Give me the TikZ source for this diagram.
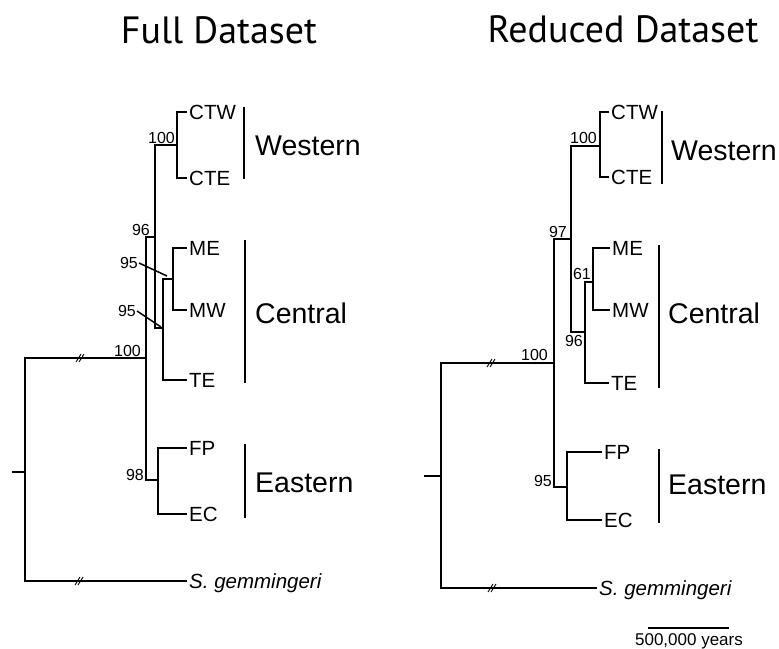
\documentclass[tikz,border=0pt]{standalone}
\usepackage{fontspec}
\setmainfont{Liberation Sans}
\newfontfamily\titlefont{PT Sans}
\usetikzlibrary{calc}

\begin{document}
\begin{tikzpicture}[x=1pt,y=-1pt]
      \tikzset{branch/.style={line width=1.25pt},
        brk/.style={line width=0.9pt},
        leaf/.style={anchor=west, inner sep=2pt, text depth=0pt,
          font=\fontsize{20.5}{23}\selectfont},
        grp/.style={anchor=west, inner sep=0pt,
          font=\fontsize{28.5}{31}\selectfont},
        supp/.style={inner sep=1pt, font=\fontsize{16}{18}\selectfont},
        ttl/.style={anchor=base, font=\titlefont\fontsize{38}{40}\selectfont}
      }
      \useasboundingbox (0,0) rectangle (779,648);

      \node [ttl] (tfull) at (219,43) {Full Dataset};
      \node [ttl] (tred) at (623,42) {Reduced Dataset};

      % full dataset
      \coordinate (Lstub) at (12,472);
      \coordinate (Lroot) at (25,472);
      \coordinate (Lin) at (146,358);
      \coordinate (L96) at (155,237);
      \coordinate (Lwest) at (177,145);
      \coordinate (L95b) at (163,328);
      \coordinate (L95a) at (173,279);
      \coordinate (Least) at (158,480);
      \node [leaf] (Lctw) at (187,112) {CTW};
      \node [leaf] (Lcte) at (187,178) {CTE};
      \node [leaf] (Lme) at (187,248) {ME};
      \node [leaf] (Lmw) at (187,310) {MW};
      \node [leaf] (Lte) at (187,380) {TE};
      \node [leaf] (Lfp) at (187,448) {FP};
      \node [leaf] (Lec) at (187,514) {EC};
      \node [leaf] (Lgem) at (187,581) {\itshape S. gemmingeri};
      \draw [branch] (Lstub) -- (Lroot);
      \draw [branch] (Lroot) |- (Lin) (Lroot) |- (Lgem.west)
        (Lin) |- (L96) (Lin) |- (Least)
        (L96) |- (Lwest) (L96) |- (L95b)
        (Lwest) |- (Lctw.west) (Lwest) |- (Lcte.west)
        (L95b) |- (L95a) (L95b) |- (Lte.west)
        (L95a) |- (Lme.west) (L95a) |- (Lmw.west)
        (Least) |- (Lfp.west) (Least) |- (Lec.west);

      \node [supp, anchor=south east] (sLwest) at (176,145) {100};
      \node [supp, anchor=south east] (sL96) at (151,237) {96};
      \node [supp, anchor=south east] (sLin) at (142,358) {100};
      \node [supp, anchor=south east] (sLeast) at (145,482) {98};
      \node [supp, anchor=east] (sL95a) at (139,263) {95};
      \node [supp, anchor=east] (sL95b) at (137,311) {95};
      \coordinate (pL95a) at (167,276);
      \coordinate (pL95b) at (161,327);
      \draw [line width=1.5pt] (sL95a.east) -- (pL95a);
      \draw [line width=1.5pt] (sL95b.east) -- (pL95b);

      \draw [branch] (244,107) -- (244,179);
      \draw [branch] (245,240) -- (245,383);
      \draw [branch] (245,444) -- (245,518);
      \node [grp] (gLw) at (255,146) {Western};
      \node [grp] (gLc) at (255,313) {Central};
      \node [grp] (gLe) at (255,483) {Eastern};

      % reduced dataset
      \coordinate (Rstub) at (424,476);
      \coordinate (Rroot) at (441,476);
      \coordinate (Rin) at (554,363);
      \coordinate (R97) at (571,239);
      \coordinate (Rwest) at (600,146);
      \coordinate (R96) at (585,332);
      \coordinate (R61) at (593,282);
      \coordinate (Reast) at (567,487);
      \node [leaf] (Rctw) at (609,112) {CTW};
      \node [leaf] (Rcte) at (609,177) {CTE};
      \node [leaf] (Rme) at (610,248) {ME};
      \node [leaf] (Rmw) at (610,310) {MW};
      \node [leaf] (Rte) at (609,383) {TE};
      \node [leaf] (Rfp) at (602,452) {FP};
      \node [leaf] (Rec) at (602,520) {EC};
      \node [leaf] (Rgem) at (597,588) {\itshape S. gemmingeri};
      \draw [branch] (Rstub) -- (Rroot);
      \draw [branch] (Rroot) |- (Rin) (Rroot) |- (Rgem.west)
        (Rin) |- (R97) (Rin) |- (Reast)
        (R97) |- (Rwest) (R97) |- (R96)
        (Rwest) |- (Rctw.west) (Rwest) |- (Rcte.west)
        (R96) |- (R61) (R96) |- (Rte.west)
        (R61) |- (Rme.west) (R61) |- (Rmw.west)
        (Reast) |- (Rfp.west) (Reast) |- (Rec.west);

      \node [supp, anchor=south east] (sRwest) at (598,145) {100};
      \node [supp, anchor=south east] (sR97) at (568,239) {97};
      \node [supp, anchor=south east] (sRin) at (549,362) {100};
      \node [supp, anchor=south east] (sR61) at (592,281) {61};
      \node [supp, anchor=north east] (sR96) at (584,334) {96};
      \node [supp, anchor=south east] (sReast) at (553,488) {95};

      \draw [branch] (662,111) -- (662,184);
      \draw [branch] (659,245) -- (659,388);
      \draw [branch] (659,449) -- (659,523);
      \node [grp] (gRw) at (671,151) {Western};
      \node [grp] (gRc) at (668,313) {Central};
      \node [grp] (gRe) at (668,485) {Eastern};

      \foreach \bx/\by in {80/358, 79/581, 491/363, 492/588} {
        \draw [brk] (\bx-4,\by+4) -- ++(5,-8);
        \draw [brk] (\bx-1,\by+4) -- ++(5,-8);
      }

      \draw [branch] (648,628) -- (729,628);
      \node [anchor=base, inner sep=0pt, font=\fontsize{17}{19}\selectfont] (sbar) at (689,645) {500,000 years};
    \end{tikzpicture}
\end{document}
